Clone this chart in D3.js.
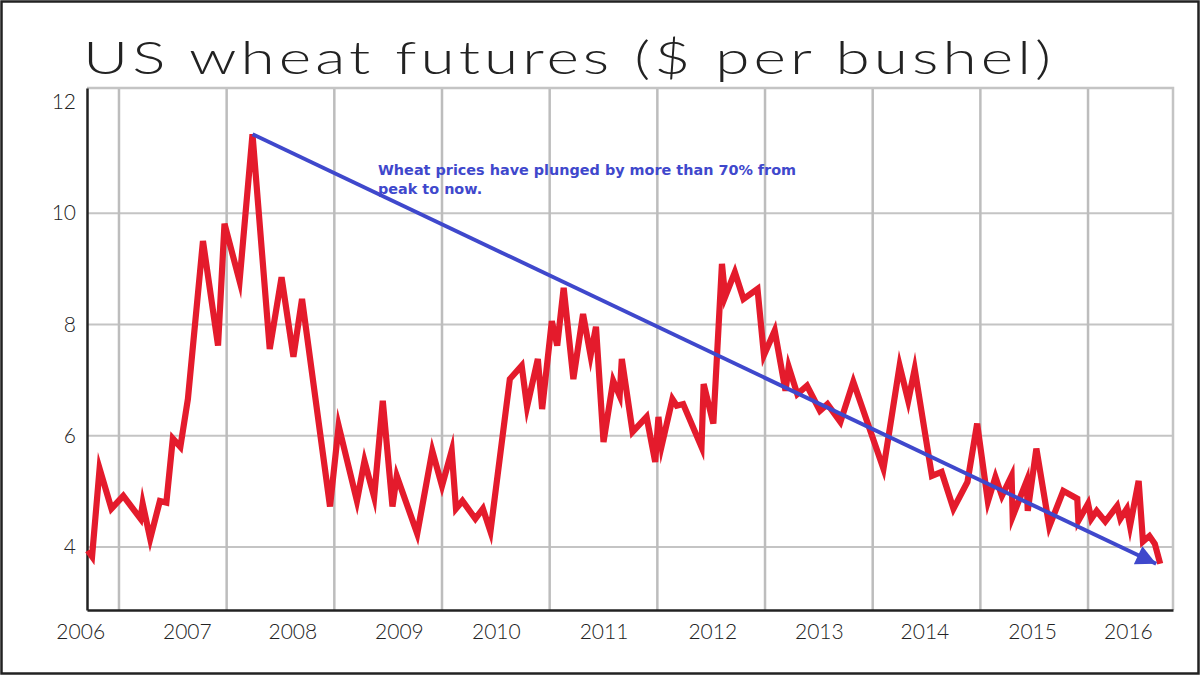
<!DOCTYPE html>
<html>
<head>
<meta charset="utf-8">
<script src="https://cdn.jsdelivr.net/npm/d3@7"></script>
<style>
  body { margin: 0; background: #fff; }
  svg { display: block; }
</style>
</head>
<body>
<div id="chart"></div>
<script>
// monthly-ish price trace (decimal year, $ per bushel)
var years = [
  2006.71, 2006.75, 2006.82, 2006.93, 2007.04, 2007.20, 2007.22, 2007.29, 2007.38, 2007.44,
  2007.50, 2007.57, 2007.64, 2007.78, 2007.92, 2007.98, 2008.12, 2008.24, 2008.40, 2008.51,
  2008.62, 2008.70, 2008.96, 2009.04, 2009.21, 2009.28, 2009.37, 2009.45, 2009.54, 2009.58,
  2009.77, 2009.91, 2010.00, 2010.09, 2010.13, 2010.19, 2010.31, 2010.38, 2010.45, 2010.63,
  2010.74, 2010.79, 2010.89, 2010.93, 2011.02, 2011.07, 2011.13, 2011.22, 2011.31, 2011.38,
  2011.43, 2011.50, 2011.59, 2011.65, 2011.67, 2011.77, 2011.90, 2011.98, 2012.01, 2012.04,
  2012.14, 2012.18, 2012.24, 2012.41, 2012.43, 2012.52, 2012.60, 2012.63, 2012.72, 2012.80,
  2012.93, 2012.99, 2013.09, 2013.19, 2013.22, 2013.30, 2013.39, 2013.51, 2013.58, 2013.70,
  2013.82, 2014.10, 2014.25, 2014.33, 2014.39, 2014.55, 2014.64, 2014.75, 2014.88, 2014.97,
  2015.07, 2015.14, 2015.20, 2015.29, 2015.30, 2015.43, 2015.44, 2015.52, 2015.64, 2015.77,
  2015.90, 2015.91, 2016.00, 2016.03, 2016.08, 2016.16, 2016.27, 2016.30, 2016.36, 2016.39,
  2016.47, 2016.51, 2016.57, 2016.62, 2016.67
];
var prices = [
  3.94, 3.83, 5.41, 4.69, 4.92, 4.51, 4.78, 4.15, 4.83, 4.80,
  5.95, 5.80, 6.66, 9.50, 7.62, 9.81, 8.78, 11.42, 7.56, 8.85,
  7.42, 8.46, 4.73, 6.18, 4.83, 5.55, 4.90, 6.63, 4.73, 5.28,
  4.24, 5.73, 5.10, 5.73, 4.69, 4.83, 4.51, 4.69, 4.28, 7.02,
  7.26, 6.52, 7.38, 6.48, 8.06, 7.62, 8.66, 7.02, 8.19, 7.44,
  7.96, 5.89, 6.99, 6.72, 7.38, 6.07, 6.34, 5.53, 6.34, 5.82,
  6.66, 6.54, 6.57, 5.80, 6.93, 6.22, 9.09, 8.50, 8.94, 8.46,
  8.64, 7.45, 7.89, 6.81, 7.24, 6.75, 6.90, 6.45, 6.57, 6.25,
  6.97, 5.41, 7.26, 6.63, 7.20, 5.28, 5.35, 4.69, 5.17, 6.22,
  4.82, 5.26, 4.92, 5.28, 4.55, 5.19, 4.65, 5.77, 4.37, 5.01,
  4.87, 4.47, 4.78, 4.51, 4.65, 4.46, 4.74, 4.51, 4.69, 4.38,
  5.19, 4.10, 4.20, 4.06, 3.70
];

var yearLabels = ['2006', '2007', '2008', '2009', '2010', '2011', '2012', '2013', '2014', '2015', '2016'];
var yearLabelAt = [2006.64, 2007.63, 2008.61, 2009.60, 2010.50, 2011.50, 2012.51, 2013.50, 2014.48, 2015.48, 2016.37];
var yearGrid = [2007, 2008, 2009, 2010, 2011, 2012, 2013, 2014, 2015, 2016];
var priceTicks = [4, 6, 8, 10, 12];
var priceGrid = [4, 6, 8, 10];

var titleText = 'US wheat futures ($ per bushel)';
var noteLines = ['Wheat prices have plunged by more than 70% from', 'peak to now.'];

var
  w = 1200,
  h = 675,
  pl = 87, pr = 1173, pt = 88, pb = 610,
  x = d3.scaleLinear().domain([2006.703, 2016.789]).range([pl, pr]),
  y = d3.scaleLinear().domain([2.87, 12.25]).range([pb, pt]);

var svg = d3.select('#chart').append('svg')
  .attr('width', w)
  .attr('height', h);

// outer frame
svg.append('rect')
  .attr('x', 1.5).attr('y', 1.5)
  .attr('width', w - 3).attr('height', h - 3)
  .attr('fill', '#fff')
  .attr('stroke', '#222')
  .attr('stroke-width', 2.5);

svg.append('text')
  .attr('x', 83).attr('y', 74)
  .attr('font-family', 'Lato, "DejaVu Sans", sans-serif')
  .attr('font-weight', 300)
  .attr('font-size', 46)
  .attr('letter-spacing', 3)
  .attr('fill', '#222')
  .attr('textLength', 972)
  .attr('lengthAdjust', 'spacingAndGlyphs')
  .text(titleText);

// grid
svg.append('g').selectAll('line')
  .data(priceGrid)
  .enter().append('line')
  .attr('x1', pl).attr('x2', pr)
  .attr('y1', function(d) { return y(d); })
  .attr('y2', function(d) { return y(d); })
  .attr('stroke', '#c4c4c4')
  .attr('stroke-width', 2);

svg.append('g').selectAll('line')
  .data(yearGrid)
  .enter().append('line')
  .attr('x1', function(d) { return x(d); })
  .attr('x2', function(d) { return x(d); })
  .attr('y1', pt).attr('y2', pb)
  .attr('stroke', '#bdbdbd')
  .attr('stroke-width', 2.5);

// top and right border of plot
svg.append('path')
  .attr('d', 'M' + pl + ',' + pt + 'H' + pr + 'V' + pb)
  .attr('fill', 'none')
  .attr('stroke', '#c4c4c4')
  .attr('stroke-width', 2.5);

var xAxis = d3.axisBottom(x)
  .tickValues(yearLabelAt)
  .tickSize(0)
  .tickPadding(10)
  .tickFormat(function(d, i) { return yearLabels[i]; });

var yAxis = d3.axisLeft(y)
  .tickValues(priceTicks)
  .tickSize(0)
  .tickPadding(11)
  .tickFormat(d3.format('d'));

var gx = svg.append('g')
  .attr('transform', 'translate(0,' + pb + ')')
  .call(xAxis);
var gy = svg.append('g')
  .attr('transform', 'translate(' + pl + ',0)')
  .call(yAxis);

[gx, gy].forEach(function(g) {
  g.select('.domain').attr('stroke', '#222').attr('stroke-width', 2.5);
  g.selectAll('text')
    .attr('font-family', 'Lato, "Open Sans", sans-serif')
    .attr('font-weight', 300)
    .attr('font-size', 21)
    .attr('fill', '#222');
});
gx.selectAll('text').attr('dy', '0.9em');

// price line
var line = d3.line()
  .x(function(d) { return x(d[0]); })
  .y(function(d) { return y(d[1]); });

var pts = years.map(function(d, i) { return [d, prices[i]]; });

svg.append('path')
  .datum(pts)
  .attr('d', line)
  .attr('fill', 'none')
  .attr('stroke', '#e41b2c')
  .attr('stroke-width', 6.2)
  .attr('stroke-linejoin', 'miter')
  .attr('stroke-miterlimit', 6);

// arrow from peak to latest
svg.append('defs').append('marker')
  .attr('id', 'head')
  .attr('viewBox', '0 0 10 10')
  .attr('refX', 10).attr('refY', 5)
  .attr('markerUnits', 'userSpaceOnUse')
  .attr('markerWidth', 26).attr('markerHeight', 20)
  .attr('orient', 'auto')
  .append('path')
  .attr('d', 'M0,0L10,5L0,10Z')
  .attr('fill', '#3f48cc');

var peak = pts[d3.maxIndex(prices)];
var last = pts[pts.length - 1];

svg.append('line')
  .attr('x1', x(peak[0])).attr('y1', y(peak[1]))
  .attr('x2', x(last[0]) - 4).attr('y2', y(last[1]))
  .attr('stroke', '#3f48cc')
  .attr('stroke-width', 4)
  .attr('marker-end', 'url(#head)');

svg.append('g').selectAll('text')
  .data(noteLines)
  .enter().append('text')
  .attr('x', 378)
  .attr('y', function(d, i) { return 175 + i * 19; })
  .attr('font-family', '"DejaVu Sans", Verdana, sans-serif')
  .attr('font-weight', 'bold')
  .attr('font-size', 14.4)
  .attr('fill', '#3f48cc')
  .text(function(d) { return d; });
</script>
</body>
</html>
